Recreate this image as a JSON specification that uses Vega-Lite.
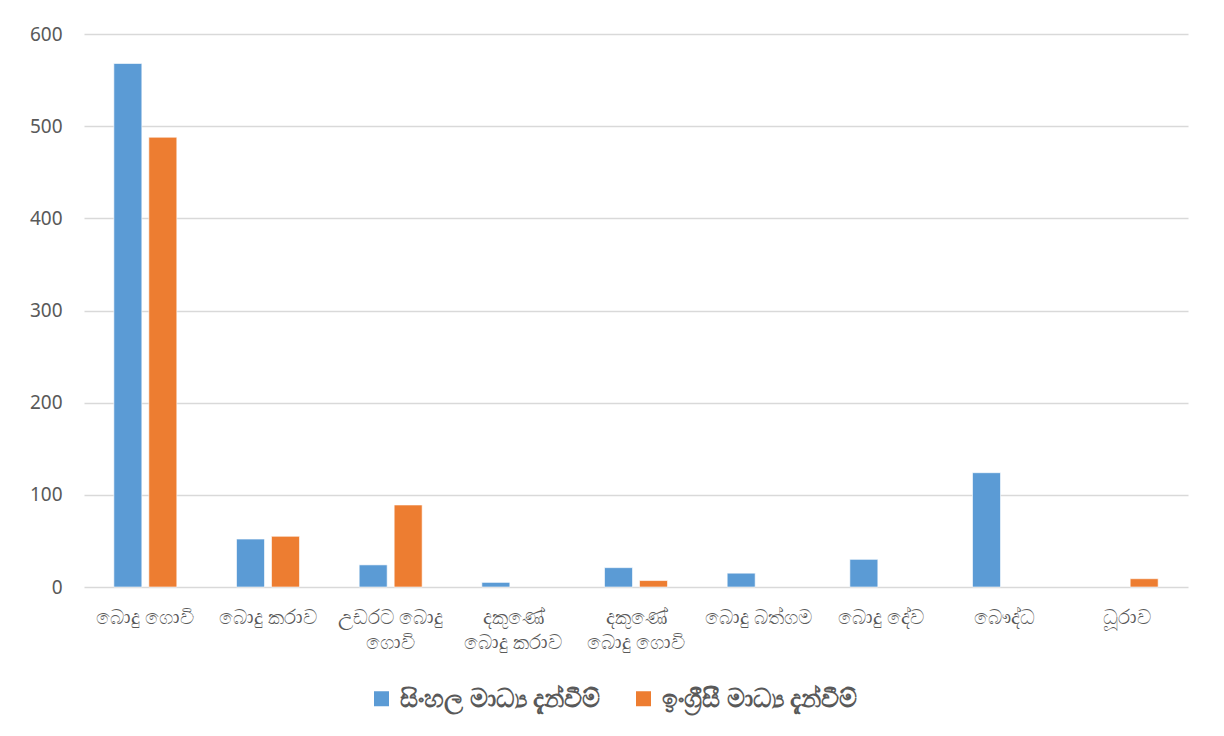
{
  "$schema": "https://vega.github.io/schema/vega-lite/v6.json",
  "autosize": "none",
  "width": 1104,
  "height": 553,
  "padding": {"left": 84, "top": 34, "right": 36, "bottom": 149},
  "background": "white",
  "data": {
    "values": [
      {"category": "බොදු ගොවි", "series": "සිංහල මාධ්‍ය දැන්වීම්", "value": 568},
      {"category": "බොදු ගොවි", "series": "ඉංග්‍රීසී මාධ්‍ය දැන්වීම්", "value": 488},
      {"category": "බොදු කරාව", "series": "සිංහල මාධ්‍ය දැන්වීම්", "value": 52},
      {"category": "බොදු කරාව", "series": "ඉංග්‍රීසී මාධ්‍ය දැන්වීම්", "value": 55},
      {"category": "උඩරට බොදු ගොවි", "series": "සිංහල මාධ්‍ය දැන්වීම්", "value": 24},
      {"category": "උඩරට බොදු ගොවි", "series": "ඉංග්‍රීසී මාධ්‍ය දැන්වීම්", "value": 89},
      {"category": "දකුණේ බොදු කරාව", "series": "සිංහල මාධ්‍ය දැන්වීම්", "value": 5},
      {"category": "දකුණේ බොදු ගොවි", "series": "සිංහල මාධ්‍ය දැන්වීම්", "value": 21},
      {"category": "දකුණේ බොදු ගොවි", "series": "ඉංග්‍රීසී මාධ්‍ය දැන්වීම්", "value": 7},
      {"category": "බොදු බත්ගම", "series": "සිංහල මාධ්‍ය දැන්වීම්", "value": 15},
      {"category": "බොදු දේව", "series": "සිංහල මාධ්‍ය දැන්වීම්", "value": 30},
      {"category": "බෞද්ධ", "series": "සිංහල මාධ්‍ය දැන්වීම්", "value": 124},
      {"category": "ධූරාව", "series": "ඉංග්‍රීසී මාධ්‍ය දැන්වීම්", "value": 9}
    ]
  },
  "mark": {"type": "bar", "stroke": "white", "strokeWidth": 1, "strokeOpacity": 0.6},
  "encoding": {
    "x": {
      "field": "category",
      "type": "nominal",
      "sort": ["බොදු ගොවි", "බොදු කරාව", "උඩරට බොදු ගොවි", "දකුණේ බොදු කරාව", "දකුණේ බොදු ගොවි", "බොදු බත්ගම", "බොදු දේව", "බෞද්ධ", "ධූරාව"],
      "scale": {"paddingInner": 0, "paddingOuter": 0},
      "axis": {
        "title": null,
        "labelAngle": 0,
        "domain": false,
        "ticks": false,
        "labelPadding": 20,
        "labelFontSize": 20,
        "labelColor": "#595959",
        "labelFont": "Noto Sans",
        "labelLineHeight": 25,
        "labelLimit": 200,
        "labelExpr": "datum.label == 'උඩරට බොදු ගොවි' ? ['උඩරට බොදු', 'ගොවි'] : datum.label == 'දකුණේ බොදු කරාව' ? ['දකුණේ', 'බොදු කරාව'] : datum.label == 'දකුණේ බොදු ගොවි' ? ['දකුණේ', 'බොදු ගොවි'] : datum.label"
      }
    },
    "xOffset": {
      "field": "series",
      "type": "nominal",
      "sort": ["සිංහල මාධ්‍ය දැන්වීම්", "ඉංග්‍රීසී මාධ්‍ය දැන්වීම්"],
      "scale": {"paddingInner": 0.2, "paddingOuter": 0.853}
    },
    "y": {
      "field": "value",
      "type": "quantitative",
      "scale": {"domain": [0, 600]},
      "axis": {
        "title": null,
        "values": [0, 100, 200, 300, 400, 500, 600],
        "domain": false,
        "ticks": false,
        "labelPadding": 22,
        "labelFontSize": 19,
        "labelColor": "#595959",
        "labelFont": "Noto Sans",
        "gridColor": "#D9D9D9",
        "gridWidth": 1.5
      }
    },
    "color": {
      "field": "series",
      "type": "nominal",
      "sort": ["සිංහල මාධ්‍ය දැන්වීම්", "ඉංග්‍රීසී මාධ්‍ය දැන්වීම්"],
      "scale": {"range": ["#5B9BD5", "#ED7D31"]},
      "legend": {
        "title": null,
        "orient": "none",
        "direction": "horizontal",
        "legendX": 285,
        "legendY": 652,
        "symbolType": "square",
        "symbolSize": 225,
        "symbolStrokeWidth": 0,
        "labelFontSize": 25,
        "labelFontWeight": "bold",
        "labelColor": "#595959",
        "labelFont": "Noto Sans",
        "labelLimit": 400,
        "labelOffset": 6,
        "columnPadding": 30,
        "symbolOffset": 0
      }
    }
  },
  "config": {"view": {"stroke": null}}
}
